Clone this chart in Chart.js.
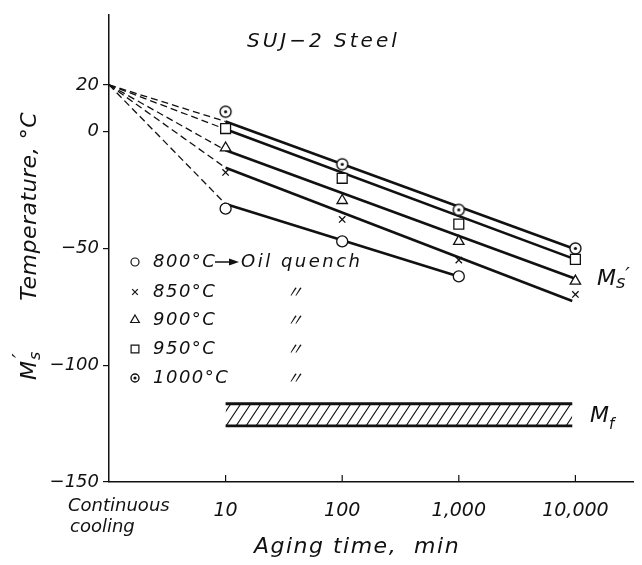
<!DOCTYPE html>
<html>
<head>
<meta charset="utf-8">
<script src="https://cdn.jsdelivr.net/npm/chart.js@4.4.1/dist/chart.umd.min.js"></script>
<style>
  html, body { margin: 0; padding: 0; background: #fff; }
</style>
</head>
<body>
<canvas id="chart" width="642" height="565"></canvas>
<script>
const FONT = "'DejaVu Sans', sans-serif";
const INK = '#111';

// aging time, min (1 stands for "continuous cooling")
const agingTimes = [10, 100, 1000, 10000];
const xTickValues = [1, 10, 100, 1000, 10000];
const xTickLabels = ['', '10', '100', '1,000', '10,000'];
const yTickValues = [-150, -100, -50, 0, 20];

// measured Ms' points, °C
const ms800 = [-33, -47, -62];
const ms850 = [-17.5, -37.6, -55, -69.7];
const ms900 = [-7, -29.5, -47, -64];
const ms950 = [1.3, -20, -39.6, -54.7];
const ms1000 = [8.5, -14, -33.5, -50];

// drawn lines: continuous cooling -> 10 min dashed, then the fitted line
const line800X = [1, 10, 1000];
const line800Y = [20, -31, -62];
const line850X = [1, 10, 9400];
const line850Y = [20, -15.5, -72.5];
const line900X = [1, 10, 10000];
const line900Y = [20, -8, -63];
const line950X = [1, 10, 10000];
const line950Y = [20, 1, -54.7];
const line1000X = [1, 10, 10000];
const line1000Y = [20, 4.3, -50.4];

// Mf band
const mfX = [10, 9400];
const mfTop = [-116.5, -116.5];
const mfBottom = [-126, -126];

const legendLabels = ['800°C', '850°C', '900°C', '950°C', '1000°C'];

function pts(xs, ys) {
    return ys.map((y, i) => ({ x: xs[i], y: y }));
}

// circle with a dot in it
function dotCircle(r) {
    const c = document.createElement('canvas');
    const s = Math.ceil(r * 2 + 4);
    c.width = s; c.height = s;
    const g = c.getContext('2d');
    g.fillStyle = '#fff';
    g.strokeStyle = INK;
    g.lineWidth = 1.4;
    g.beginPath(); g.arc(s / 2, s / 2, r, 0, Math.PI * 2); g.fill(); g.stroke();
    g.fillStyle = INK;
    g.beginPath(); g.arc(s / 2, s / 2, 1.6, 0, Math.PI * 2); g.fill();
    return c;
}

// diagonal hatching for the Mf band
function hatch() {
    const c = document.createElement('canvas');
    c.width = 10; c.height = 15;
    const g = c.getContext('2d');
    g.strokeStyle = INK;
    g.lineWidth = 1.1;
    g.beginPath();
    g.moveTo(0, 15); g.lineTo(10, 0);
    g.moveTo(-1, 1.5); g.lineTo(1, -1.5);
    g.moveTo(9, 16.5); g.lineTo(11, 13.5);
    g.stroke();
    return g.createPattern(c, 'repeat');
}

const markerStyles = [
    { style: 'circle', radius: 5.5, legendRadius: 4 },
    { style: 'crossRot', radius: 4.5, legendRadius: 4 },
    { style: 'triangle', radius: 6, legendRadius: 5 },
    { style: 'rect', radius: 7, legendRadius: 5.5 },
    { style: dotCircle(5.5), radius: 5.5, legendRadius: 4, legendImg: dotCircle(4) }
];
const markerData = [ms800, ms850, ms900, ms950, ms1000];
const lineXs = [line800X, line850X, line900X, line950X, line1000X];
const lineYs = [line800Y, line850Y, line900Y, line950Y, line1000Y];

const datasets = [];

markerData.forEach((vals, i) => {
    datasets.push({
        label: legendLabels[i],
        data: pts(agingTimes, vals),
        pointStyle: markerStyles[i].style,
        pointRadius: markerStyles[i].radius,
        pointBorderWidth: 1.3,
        pointBackgroundColor: '#fff',
        pointBorderColor: INK,
        showLine: false,
        order: 0,
        clip: false
    });
});

lineYs.forEach((ys, i) => {
    datasets.push({
        label: legendLabels[i] + ' line',
        data: pts(lineXs[i], ys),
        showLine: true,
        pointRadius: 0,
        borderColor: INK,
        borderWidth: 2.6,
        segment: {
            borderDash: ctx => ctx.p0DataIndex === 0 ? [7, 4] : undefined,
            borderWidth: ctx => ctx.p0DataIndex === 0 ? 1.3 : 2.6
        },
        order: 1,
        clip: false
    });
});

datasets.push({
    label: 'Mf top',
    data: pts(mfX, mfTop),
    showLine: true,
    pointRadius: 0,
    borderColor: INK,
    borderWidth: 2.8,
    backgroundColor: hatch(),
    fill: '+1',
    order: 2
});
datasets.push({
    label: 'Mf bottom',
    data: pts(mfX, mfBottom),
    showLine: true,
    pointRadius: 0,
    borderColor: INK,
    borderWidth: 2.8,
    fill: false,
    order: 2
});

function text(ctx, str, x, y, size, opts) {
    opts = opts || {};
    ctx.font = 'italic ' + size + 'px ' + (opts.family || FONT);
    ctx.textAlign = opts.align || 'left';
    ctx.textBaseline = opts.baseline || 'middle';
    ctx.letterSpacing = (opts.spacing || 0) + 'px';
    ctx.fillText(str, x, y);
    const w = ctx.measureText(str).width;
    ctx.letterSpacing = '0px';
    return w;
}

const annotations = {
    id: 'annotations',
    afterDraw(chart) {
        const ctx = chart.ctx;
        const xs = chart.scales.x;
        const ys = chart.scales.y;
        ctx.save();
        ctx.fillStyle = INK;
        ctx.strokeStyle = INK;

        // small inward ticks on the time axis
        ctx.lineWidth = 1.2;
        agingTimes.forEach(t => {
            const px = xs.getPixelForValue(t);
            ctx.beginPath();
            ctx.moveTo(px, ys.bottom);
            ctx.lineTo(px, ys.bottom - 7);
            ctx.stroke();
        });

        // title
        text(ctx, 'SUJ−2 Steel', 247, 42, 20, { spacing: 3 });

        // y axis title
        ctx.save();
        ctx.translate(30, 246);
        ctx.rotate(-Math.PI / 2);
        const wm = text(ctx, 'M', -134, 0, 22);
        text(ctx, 's', -134 + wm + 1, 6, 16);
        text(ctx, '′', -134 + wm + 3, -9, 20);
        text(ctx, 'Temperature, °C', 134, 0, 22, { align: 'right', spacing: 0.5 });
        ctx.restore();

        // x axis labels
        text(ctx, 'Continuous', 68, 506, 18);
        text(ctx, 'cooling', 70, 527, 18);
        text(ctx, 'Aging time,  min', 357, 547, 22, { align: 'center', spacing: 1.5 });

        // legend
        const rows = [262, 292, 320, 349, 378];
        markerStyles.forEach((m, i) => {
            ctx.fillStyle = '#fff';
            ctx.strokeStyle = INK;
            ctx.lineWidth = 1.2;
            Chart.helpers.drawPoint(ctx, {
                pointStyle: m.legendImg || m.style,
                radius: m.legendRadius,
                borderWidth: 1.2,
                rotation: 0
            }, 135, rows[i]);
            ctx.fillStyle = INK;
            text(ctx, legendLabels[i], 153, rows[i], 18, { spacing: 1.5 });
            if (i > 0) text(ctx, '〃', 286, rows[i], 17, { family: "'Noto Sans CJK JP', sans-serif" });
        });
        // arrow to "Oil quench"
        ctx.lineWidth = 1.5;
        ctx.beginPath();
        ctx.moveTo(215, rows[0]);
        ctx.lineTo(231, rows[0]);
        ctx.stroke();
        ctx.beginPath();
        ctx.moveTo(239, rows[0]);
        ctx.lineTo(229, rows[0] - 3.5);
        ctx.lineTo(229, rows[0] + 3.5);
        ctx.closePath();
        ctx.fill();
        text(ctx, 'Oil quench', 241, rows[0], 18, { spacing: 2.5 });

        // curve labels
        const wms = text(ctx, 'M', 597, 279, 22);
        const ws = text(ctx, 's', 597 + wms, 283, 18);
        text(ctx, '′', 597 + wms + ws, 276, 20);
        const wmf = text(ctx, 'M', 590, 416, 22);
        text(ctx, 'f', 590 + wmf, 425, 15);

        ctx.restore();
    }
};

new Chart(document.getElementById('chart'), {
    type: 'scatter',
    data: { datasets: datasets },
    options: {
        responsive: false,
        animation: false,
        layout: { padding: { top: 13, right: 2, left: 0, bottom: 0 } },
        plugins: {
            legend: { display: false },
            tooltip: { enabled: false }
        },
        scales: {
            x: {
                type: 'logarithmic',
                min: 1,
                max: 31623,
                afterBuildTicks: s => { s.ticks = xTickValues.map(v => ({ value: v })); },
                afterFit: s => { s.height = 83; },
                ticks: {
                    callback: v => { const i = xTickValues.indexOf(v); return i >= 0 ? xTickLabels[i] : ''; },
                    font: { family: FONT, size: 19, style: 'italic' },
                    color: INK,
                    padding: 10,
                    maxRotation: 0,
                    autoSkip: false
                },
                grid: { display: false },
                border: { color: INK, width: 1.5 }
            },
            y: {
                min: -150,
                max: 50,
                afterBuildTicks: s => { s.ticks = yTickValues.map(v => ({ value: v })); },
                afterFit: s => { s.width = 109; },
                ticks: {
                    callback: v => String(v).replace('-', '−'),
                    font: { family: FONT, size: 18, style: 'italic' },
                    color: INK,
                    padding: 4
                },
                grid: { drawOnChartArea: false, tickLength: 6, color: INK, lineWidth: 1.2 },
                border: { color: INK, width: 1.5 }
            }
        }
    },
    plugins: [annotations]
});
</script>
</body>
</html>
